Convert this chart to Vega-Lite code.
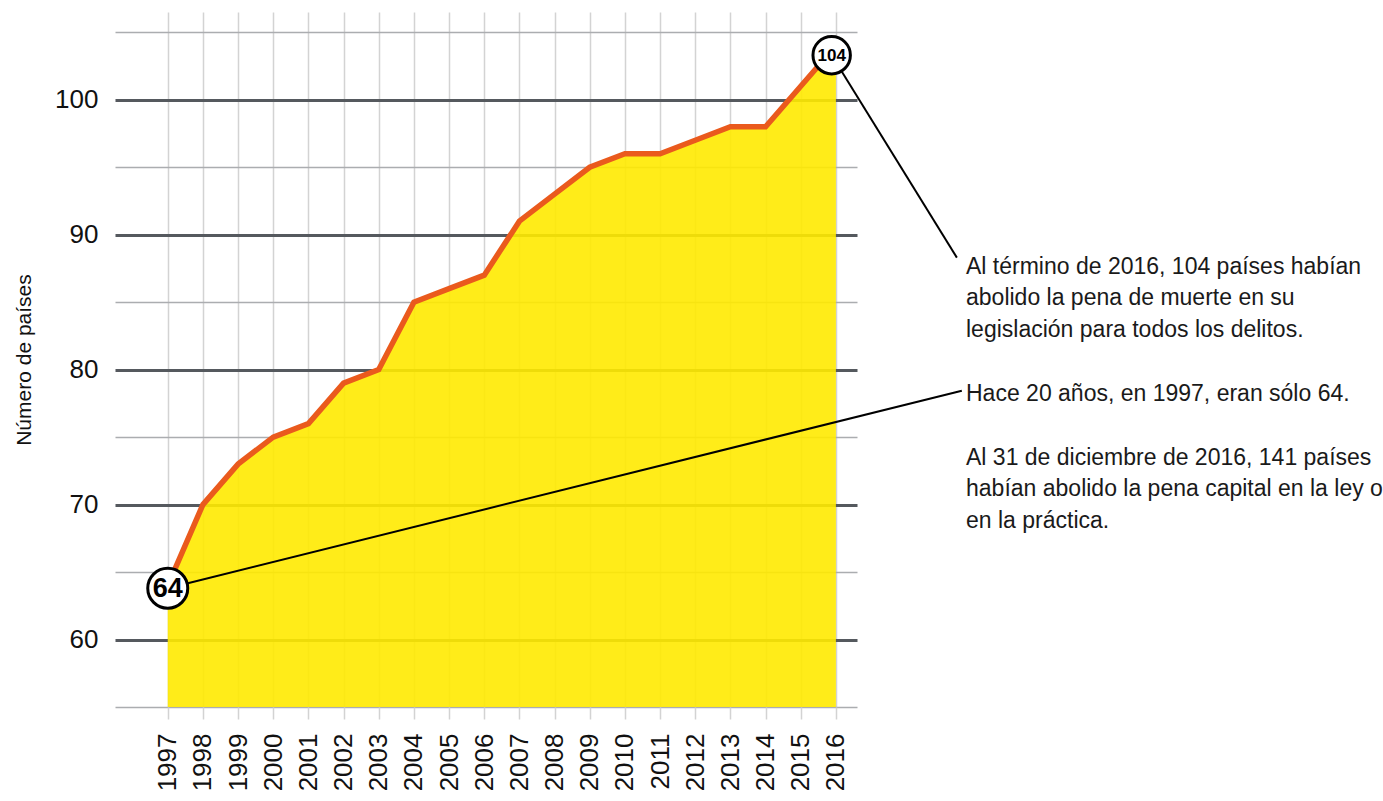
{
  "$schema": "https://vega.github.io/schema/vega-lite/v6.json",
  "width": 742,
  "height": 695,
  "padding": {"left": 13, "top": 12, "right": 5, "bottom": 5},
  "background": "white",
  "config": {
    "view": {"stroke": null},
    "font": "Liberation Sans",
    "axis": {"labelFont": "Liberation Sans", "titleFont": "Liberation Sans"}
  },
  "datasets": {
    "series": [
      {"year": 1997, "countries": 64},
      {"year": 1998, "countries": 70},
      {"year": 1999, "countries": 73},
      {"year": 2000, "countries": 75},
      {"year": 2001, "countries": 76},
      {"year": 2002, "countries": 79},
      {"year": 2003, "countries": 80},
      {"year": 2004, "countries": 85},
      {"year": 2005, "countries": 86},
      {"year": 2006, "countries": 87},
      {"year": 2007, "countries": 91},
      {"year": 2008, "countries": 93},
      {"year": 2009, "countries": 95},
      {"year": 2010, "countries": 96},
      {"year": 2011, "countries": 96},
      {"year": 2012, "countries": 97},
      {"year": 2013, "countries": 98},
      {"year": 2014, "countries": 98},
      {"year": 2015, "countries": 101},
      {"year": 2016, "countries": 104}
    ],
    "markers": [
      {"label": "64", "year": 1997, "countries": 63.8, "toYear": 2019.58, "toCountries": 78.44},
      {"label": "104", "year": 2015.88, "countries": 103.3, "toYear": 2019.44, "toCountries": 88.3}
    ],
    "notes": [
      {"year": 2019.7, "countries": 87.11, "note": "Al término de 2016, 104 países habían\nabolido la pena de muerte en su\nlegislación para todos los delitos."},
      {"year": 2019.7, "countries": 77.7, "note": "Hace 20 años, en 1997, eran sólo 64."},
      {"year": 2019.7, "countries": 72.96, "note": "Al 31 de diciembre de 2016, 141 países\nhabían abolido la pena capital en la ley o\nen la práctica."}
    ]
  },
  "encoding": {
    "x": {
      "field": "year", "type": "quantitative",
      "scale": {"domain": [1995.5, 2016.6], "nice": false, "zero": false},
      "axis": {
        "title": null,
        "values": [1997, 1998, 1999, 2000, 2001, 2002, 2003, 2004, 2005, 2006, 2007, 2008, 2009, 2010, 2011, 2012, 2013, 2014, 2015, 2016],
        "format": "d",
        "labelAngle": -90,
        "labelAlign": "right",
        "labelBaseline": "middle",
        "labelFontSize": 26,
        "labelColor": "#111",
        "labelPadding": 14,
        "labelOverlap": false,
        "labelBound": false,
        "labelFlush": false,
        "tickSize": 12,
        "tickColor": "#d3d3d3",
        "tickWidth": 1.5,
        "grid": true,
        "gridColor": "#d3d3d3",
        "gridWidth": 1.5,
        "domain": false
      }
    },
    "y": {
      "field": "countries", "type": "quantitative",
      "scale": {"domain": [55, 106.5], "nice": false, "zero": false},
      "axis": {
        "title": "Número de países",
        "titleFontSize": 21,
        "titleFontWeight": "normal",
        "titleColor": "#111",
        "titlePadding": 20,
        "values": [55, 60, 65, 70, 75, 80, 85, 90, 95, 100, 105],
        "labelExpr": "datum.value % 10 === 0 ? datum.label : ''",
        "labelFontSize": 26,
        "labelColor": "#111",
        "labelPadding": 17,
        "labelOverlap": false,
        "ticks": false,
        "domain": false,
        "grid": true,
        "gridColor": {"condition": {"test": "datum.value % 10 === 0", "value": "#55595e"}, "value": "#abadb0"},
        "gridWidth": {"condition": {"test": "datum.value % 10 === 0", "value": 3}, "value": 1.5}
      }
    }
  },
  "layer": [
    {
      "data": {"name": "series"},
      "mark": {"type": "area", "color": "#FFEA00", "opacity": 0.9},
      "encoding": {
        "y2": {"datum": 55}
      }
    },
    {
      "data": {"name": "series"},
      "mark": {"type": "line", "color": "#EA5A1D", "strokeWidth": 5.5, "strokeJoin": "miter"},
      "encoding": {}
    },
    {
      "data": {"name": "markers"},
      "mark": {"type": "rule", "color": "#000", "strokeWidth": 2},
      "encoding": {
        "x2": {"field": "toYear"},
        "y2": {"field": "toCountries"}
      }
    },
    {
      "data": {"name": "markers"},
      "transform": [{"filter": "datum.label === '64'"}],
      "mark": {"type": "point", "shape": "circle", "filled": false, "fill": "white", "fillOpacity": 1, "stroke": "#000", "strokeWidth": 3, "size": 1600, "opacity": 1}
    },
    {
      "data": {"name": "markers"},
      "transform": [{"filter": "datum.label === '104'"}],
      "mark": {"type": "point", "shape": "circle", "filled": false, "fill": "white", "fillOpacity": 1, "stroke": "#000", "strokeWidth": 3, "size": 1400, "opacity": 1}
    },
    {
      "data": {"name": "markers"},
      "transform": [{"filter": "datum.label === '64'"}],
      "mark": {"type": "text", "fontSize": 27, "fontWeight": "bold", "align": "center", "baseline": "middle", "color": "#000", "dy": 1},
      "encoding": {
        "text": {"field": "label"}
      }
    },
    {
      "data": {"name": "markers"},
      "transform": [{"filter": "datum.label === '104'"}],
      "mark": {"type": "text", "fontSize": 17, "fontWeight": "bold", "align": "center", "baseline": "middle", "color": "#000", "dy": 1},
      "encoding": {
        "text": {"field": "label"}
      }
    },
    {
      "data": {"name": "notes"},
      "mark": {"type": "text", "fontSize": 23, "align": "left", "baseline": "alphabetic", "lineBreak": "\n", "lineHeight": 31.5, "color": "#1a1a1a"},
      "encoding": {
        "text": {"field": "note"}
      }
    }
  ]
}
